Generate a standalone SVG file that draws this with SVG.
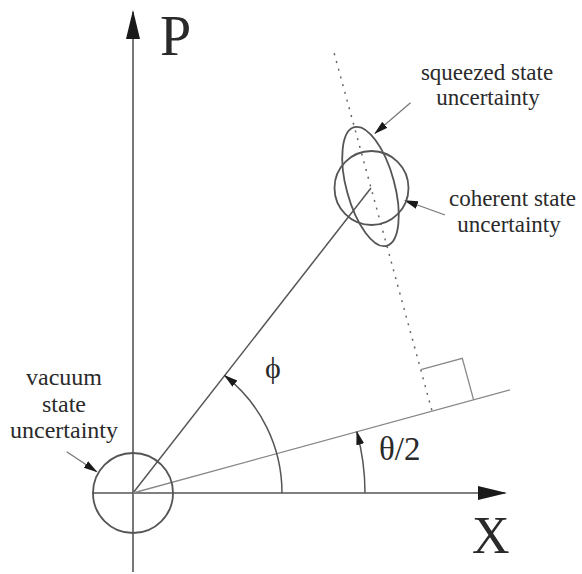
<svg xmlns="http://www.w3.org/2000/svg" width="582" height="574" viewBox="0 0 582 574">
<style>
.ax{stroke:#555;stroke-width:1.6;fill:none}
.ln{stroke:#555;stroke-width:1.5;fill:none}
.lt{stroke:#888;stroke-width:1.3;fill:none}
.dot{stroke:#666;stroke-width:1.5;fill:none;stroke-dasharray:2 6}
.shape{stroke:#555;stroke-width:1.8;fill:none}
.ptr{stroke:#777;stroke-width:1.2;fill:none}
text{font-family:"Liberation Serif","Times New Roman",serif;fill:#2a2a2a}
.lbl{font-size:23px;text-anchor:middle}
</style>
<defs>
<marker id="big" markerUnits="userSpaceOnUse" markerWidth="32" markerHeight="16" refX="27" refY="7" orient="auto">
<path d="M0,0 L29,7 L0,14 z" fill="#1a1a1a"/>
</marker>
<marker id="small" markerUnits="userSpaceOnUse" markerWidth="16" markerHeight="10" refX="13" refY="4" orient="auto">
<path d="M0,0 L14,4 L0,8 z" fill="#1a1a1a"/>
</marker>
</defs>
<rect width="582" height="574" fill="#fff"/>
<g id="connectors">
<line class="ax" x1="133" y1="572" x2="133" y2="12" marker-end="url(#big)"/>
<line class="ax" x1="92" y1="493" x2="505" y2="493" marker-end="url(#big)"/>
<line class="ln" x1="133" y1="493" x2="371" y2="188"/>
<line class="lt" x1="133" y1="493" x2="510" y2="389.9"/>
<line class="dot" x1="334.2" y1="53.3" x2="432.1" y2="411.2"/>
<polyline class="lt" points="420.8,369.7 462.3,358.4 473.6,399.9"/>
<path class="ln" d="M282,493 A149,149 0 0 0 224.7,375.6" marker-end="url(#small)"/>
<path class="ln" d="M365,493 A232,232 0 0 0 356.8,431.8" marker-end="url(#small)"/>
<line class="ptr" x1="410.5" y1="102.7" x2="375" y2="133.3" marker-end="url(#small)"/>
<line class="ptr" x1="445" y1="215" x2="405" y2="200.5" marker-end="url(#small)"/>
<line class="ptr" x1="66.7" y1="451.7" x2="96.7" y2="471.7" marker-end="url(#small)"/>
</g>
<g id="vacuum">
<circle class="shape" cx="133" cy="493" r="40"/>
<text class="lbl" x="64" y="385" style="font-size:24px">vacuum</text>
<text class="lbl" x="64" y="412" style="font-size:24px">state</text>
<text class="lbl" x="64" y="438" style="font-size:24px">uncertainty</text>
</g>
<g id="coherent">
<circle class="shape" cx="371.5" cy="188" r="37"/>
<text class="lbl" x="512.5" y="206">coherent state</text>
<text class="lbl" x="509" y="231.5">uncertainty</text>
</g>
<g id="squeezed">
<ellipse class="shape" cx="370.5" cy="186.5" rx="24" ry="61.5" transform="rotate(-15.3 370.5 186.5)"/>
<text class="lbl" x="487" y="80">squeezed state</text>
<text class="lbl" x="488" y="105">uncertainty</text>
</g>
<g id="labels">
<text x="160" y="55" style="font-size:56px">P</text>
<text x="472" y="553" style="font-size:52px">X</text>
<text x="273" y="378" style="font-size:30px;text-anchor:middle">ϕ</text>
<text x="379" y="460" style="font-size:33px">θ/2</text>
</g>
</svg>
